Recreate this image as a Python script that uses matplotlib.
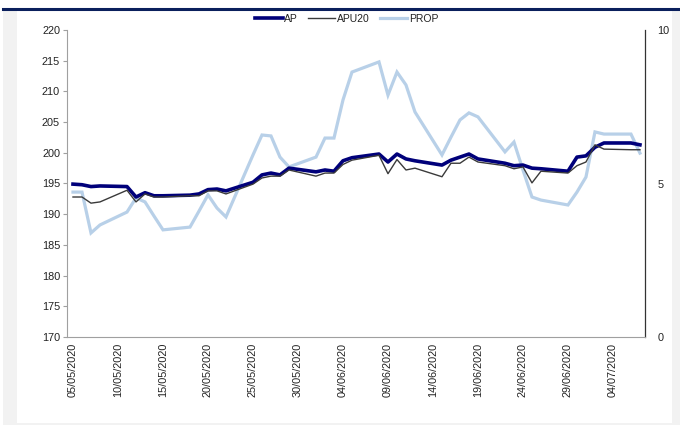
import matplotlib
matplotlib.use("Agg")
import matplotlib.pyplot as plt
import matplotlib.dates as mdates
import numpy as np
import pandas as pd

plt.rcParams['font.family'] = ['Liberation Sans', 'DejaVu Sans']

dates = ["05/05/2020", "06/05/2020", "07/05/2020", "08/05/2020",
         "11/05/2020", "12/05/2020", "13/05/2020", "14/05/2020", "15/05/2020",
         "18/05/2020", "19/05/2020", "20/05/2020", "21/05/2020", "22/05/2020",
         "25/05/2020", "26/05/2020", "27/05/2020", "28/05/2020", "29/05/2020",
         "01/06/2020", "02/06/2020", "03/06/2020", "04/06/2020", "05/06/2020",
         "08/06/2020", "09/06/2020", "10/06/2020", "11/06/2020", "12/06/2020",
         "15/06/2020", "16/06/2020", "17/06/2020", "18/06/2020", "19/06/2020",
         "22/06/2020", "23/06/2020", "24/06/2020", "25/06/2020", "26/06/2020",
         "29/06/2020", "30/06/2020", "01/07/2020", "02/07/2020", "03/07/2020",
         "06/07/2020", "07/07/2020"]

ap = [194.9, 194.8, 194.5, 194.6,
      194.5, 192.8, 193.5, 193.0, 193.0,
      193.1, 193.3, 194.0, 194.1, 193.8,
      195.2, 196.4, 196.7, 196.4, 197.5,
      196.9, 197.2, 197.0, 198.7, 199.2,
      199.8, 198.5, 199.8, 199.0, 198.7,
      198.0, 198.8, 199.3, 199.8, 199.0,
      198.3, 197.9, 198.0, 197.5, 197.4,
      197.0, 199.3, 199.5, 200.9, 201.6,
      201.6, 201.3]

apu20 = [192.8, 192.8, 191.8, 192.0,
         193.9, 192.0, 193.3, 192.8, 192.8,
         193.0, 193.0, 193.8, 193.8, 193.3,
         194.9, 195.9, 196.2, 196.2, 197.2,
         196.2, 196.7, 196.7, 198.1, 198.8,
         199.6, 196.6, 198.9, 197.2, 197.5,
         196.1, 198.3, 198.3, 199.3, 198.5,
         197.9, 197.4, 197.7, 195.1, 197.0,
         196.7, 197.9, 198.5, 201.3, 200.6,
         200.5, 200.5]

prop = [4.72, 4.72, 3.39, 3.65,
        4.07, 4.53, 4.40, 3.94, 3.49,
        3.58, 4.10, 4.63, 4.20, 3.91,
        5.93, 6.58, 6.55, 5.86, 5.54,
        5.86, 6.48, 6.48, 7.72, 8.63,
        8.96, 7.88, 8.63, 8.21, 7.33,
        5.93, 6.51, 7.07, 7.30, 7.17,
        6.03, 6.35, 5.44, 4.56, 4.46,
        4.30, 4.72, 5.21, 6.68, 6.61,
        6.61, 5.99]

tick_dates = ["05/05/2020", "10/05/2020", "15/05/2020", "20/05/2020",
              "25/05/2020", "30/05/2020", "04/06/2020", "09/06/2020",
              "14/06/2020", "19/06/2020", "24/06/2020", "29/06/2020",
              "04/07/2020"]

x = pd.to_datetime(dates, format="%d/%m/%Y")
xt = pd.to_datetime(tick_dates, format="%d/%m/%Y")

W, H = 680, 425
fig = plt.figure(figsize=(W / 100, H / 100), dpi=100)
fig.patch.set_facecolor("white")

# background panels
fig.patches.append(plt.Rectangle((3 / W, 0), 1, 1 - 9 / H, transform=fig.transFigure,
                                 facecolor="#f2f2f2", edgecolor="none", zorder=-3))
fig.patches.append(plt.Rectangle((17 / W, 1 - 423 / H), (672 - 17) / W, (423 - 10) / H,
                                 transform=fig.transFigure, facecolor="white",
                                 edgecolor="none", zorder=-2))
fig.lines.append(plt.Line2D([3 / W, 1], [1 - 8.5 / H, 1 - 8.5 / H], transform=fig.transFigure,
                            color="#0a1f5c", linewidth=2.2, zorder=5))

ax = fig.add_axes([67 / W, 1 - 337 / H, (645 - 67) / W, (337 - 30) / H])
ax2 = ax.twinx()
ax.set_zorder(ax2.get_zorder() + 1)
ax.patch.set_visible(False)

l3, = ax2.plot(x, prop, color="#b8d0e8", linewidth=2.3, label="PROP", solid_joinstyle="miter")
l1, = ax.plot(x, ap, color="#00007a", linewidth=2.6, label="AP")
l2, = ax.plot(x, apu20, color="#3a3a3a", linewidth=1.0, label="APU20")

ax.set_ylim(170, 220)
ax.set_yticks(np.arange(170, 221, 5))
ax2.set_ylim(0, 10)
ax2.set_yticks([0, 5, 10])

x0 = x[0] - pd.Timedelta(hours=16)
x1 = x[0] + pd.Timedelta(days=63.56)
ax.set_xlim(x0, x1)
ax.set_xticks(xt)
ax.xaxis.set_major_formatter(mdates.DateFormatter("%d/%m/%Y"))
for lab in ax.get_xticklabels():
    lab.set_rotation(90)

txtc = "#222222"
ax.tick_params(axis="x", length=0, labelsize=7.8, colors=txtc, pad=4)
ax.tick_params(axis="y", length=3, width=0.8, color="#a0a0a0", labelsize=7.8,
               labelcolor=txtc, pad=2)
ax2.tick_params(axis="y", length=0, labelsize=7.8, labelcolor=txtc, pad=9)

for a in (ax, ax2):
    a.spines["top"].set_visible(False)
ax.spines["left"].set_color("#a0a0a0")
ax.spines["bottom"].set_color("#a0a0a0")
ax.spines["right"].set_visible(False)
ax2.spines["left"].set_visible(False)
ax2.spines["bottom"].set_visible(False)
ax2.spines["right"].set_color("#333333")
ax2.spines["right"].set_linewidth(0.9)

leg = fig.legend([l1, l2, l3], ["AP", "APU20", "PROP"], loc="center",
                 bbox_to_anchor=(0.51, 1 - 19 / H), ncol=3, frameon=False,
                 fontsize=7.5, handlelength=2.6, handletextpad=0.15, columnspacing=1.0)
for t in leg.get_texts():
    t.set_color(txtc)

fig.savefig("out.png", dpi=100, facecolor=fig.get_facecolor())
